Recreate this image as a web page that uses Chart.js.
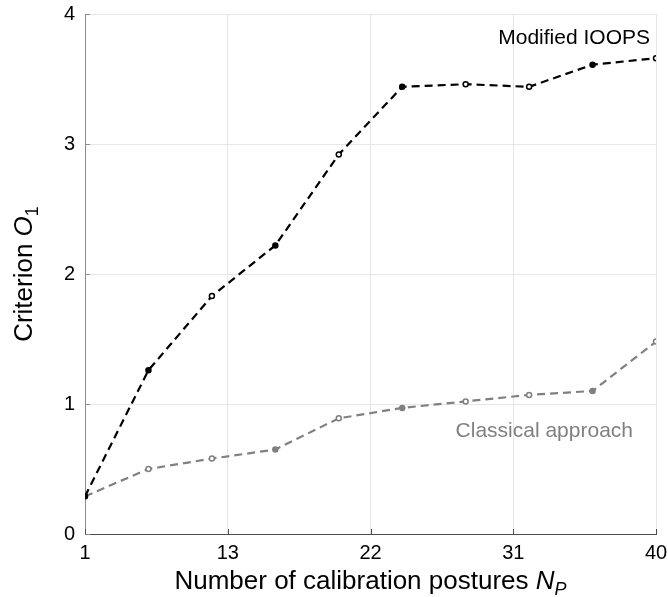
<!DOCTYPE html>
<html>
<head>
<meta charset="utf-8">
<script src="https://cdn.jsdelivr.net/npm/chart.js@4.4.1/dist/chart.umd.min.js"></script>
<style>
html,body{margin:0;padding:0;background:#fff;}
#wrap{width:668px;height:597px;position:relative;}
</style>
</head>
<body>
<div id="wrap"><canvas id="c" width="668" height="597"></canvas></div>
<script>
// ---- data ----
const pointIndex = [0, 1, 2, 3, 4, 5, 6, 7, 8, 9];
const modifiedIOOPS = [0.29, 1.26, 1.83, 2.22, 2.92, 3.44, 3.46, 3.44, 3.61, 3.66];
const classicalApproach = [0.29, 0.50, 0.58, 0.65, 0.89, 0.97, 1.02, 1.07, 1.10, 1.48];
const xTickPositions = [0, 2.25, 4.5, 6.75, 9];
const xTickLabels = ['1', '13', '22', '31', '40'];
const yTickValues = [0, 1, 2, 3, 4];
const modifiedFilled = [true, true, false, true, false, true, false, false, true, false];
const classicalFilled = [true, false, false, true, false, true, false, false, true, false];
const seriesNames = ['Modified IOOPS', 'Classical approach'];

const FONT = '"Liberation Sans", Arial, Helvetica, sans-serif';
const BLACK = '#000000';
const GREY = '#808080';

function toXY(vals) { return pointIndex.map((x, i) => ({x: x, y: vals[i]})); }

function drawRich(ctx, parts, x, y, align) {
  const base = 26;
  const setFont = p => {
    const size = p.sub ? 18 : base;
    ctx.font = (p.italic ? 'italic ' : '') + size + 'px ' + FONT;
  };
  let total = 0;
  parts.forEach(p => { setFont(p); total += ctx.measureText(p.t).width; });
  let cx = align === 'center' ? x - total / 2 : x;
  parts.forEach(p => {
    setFont(p);
    ctx.fillText(p.t, cx, y + (p.sub ? 6 : 0));
    cx += ctx.measureText(p.t).width;
  });
}

const decor = {
  id: 'decor',
  afterDraw(chart) {
    const ctx = chart.ctx;
    const xs = chart.scales.x, ys = chart.scales.y;
    const ca = chart.chartArea;
    ctx.save();
    // inward tick marks
    ctx.lineWidth = 1;
    ctx.strokeStyle = '#4d4d4d';
    xTickPositions.forEach(v => {
      const px = Math.round(xs.getPixelForValue(v)) + 0.5;
      ctx.beginPath(); ctx.moveTo(px, ca.bottom); ctx.lineTo(px, ca.bottom - 5); ctx.stroke();
    });
    ctx.strokeStyle = '#8c8c8c';
    yTickValues.forEach(v => {
      const py = Math.round(ys.getPixelForValue(v)) + 0.5;
      ctx.beginPath(); ctx.moveTo(ca.left, py); ctx.lineTo(ca.left + 5, py); ctx.stroke();
    });
    // series labels
    ctx.textBaseline = 'alphabetic';
    ctx.textAlign = 'right';
    ctx.font = '21px ' + FONT;
    ctx.fillStyle = BLACK;
    ctx.fillText(seriesNames[0], xs.getPixelForValue(9) - 6, ys.getPixelForValue(3.77));
    ctx.fillStyle = GREY;
    ctx.fillText(seriesNames[1], xs.getPixelForValue(9) - 23, ys.getPixelForValue(0.75));
    // axis titles
    ctx.fillStyle = BLACK;
    ctx.textAlign = 'left';
    drawRich(ctx, [
      {t: 'Number of calibration postures '},
      {t: 'N', italic: true},
      {t: 'P', italic: true, sub: true}
    ], (ca.left + ca.right) / 2, 589, 'center');
    ctx.translate(32, (ca.top + ca.bottom) / 2);
    ctx.rotate(-Math.PI / 2);
    drawRich(ctx, [
      {t: 'Criterion '},
      {t: 'O', italic: true},
      {t: '1', sub: true}
    ], 0, 0, 'center');
    ctx.restore();
  }
};

new Chart(document.getElementById('c'), {
  type: 'line',
  data: {
    datasets: [
      {
        label: seriesNames[0],
        data: toXY(modifiedIOOPS),
        borderColor: BLACK,
        borderWidth: 2.2,
        borderDash: [8, 5],
        pointRadius: 2.5,
        pointBorderWidth: 1.5,
        pointBorderColor: BLACK,
        pointBackgroundColor: modifiedFilled.map(f => f ? BLACK : '#ffffff'),
        tension: 0
      },
      {
        label: seriesNames[1],
        data: toXY(classicalApproach),
        borderColor: GREY,
        borderWidth: 2.2,
        borderDash: [8, 5],
        pointRadius: 2.5,
        pointBorderWidth: 1.5,
        pointBorderColor: GREY,
        pointBackgroundColor: classicalFilled.map(f => f ? GREY : '#ffffff'),
        tension: 0
      }
    ]
  },
  options: {
    responsive: false,
    animation: false,
    devicePixelRatio: 1,
    layout: {padding: {top: 14, right: 12, left: 0, bottom: 0}},
    plugins: {legend: {display: false}, tooltip: {enabled: false}},
    scales: {
      x: {
        type: 'linear',
        min: 0, max: 9,
        afterBuildTicks: s => { s.ticks = xTickPositions.map(v => ({value: v})); },
        afterFit: s => { s.height = 63; s.paddingLeft = 0; s.paddingRight = 0; },
        ticks: {
          autoSkip: false,
          maxRotation: 0,
          padding: 7,
          color: BLACK,
          font: {family: FONT, size: 20},
          callback: (v) => { const i = xTickPositions.indexOf(v); return i >= 0 ? xTickLabels[i] : ''; }
        },
        grid: {color: '#e6e6e6', lineWidth: 1, tickLength: 0, drawTicks: false},
        border: {display: true, color: '#4d4d4d', width: 1}
      },
      y: {
        type: 'linear',
        min: 0, max: 4,
        afterBuildTicks: s => { s.ticks = yTickValues.map(v => ({value: v})); },
        afterFit: s => { s.width = 85; s.paddingTop = 0; s.paddingBottom = 0; },
        ticks: {
          padding: 10,
          color: BLACK,
          font: {family: FONT, size: 20},
          callback: v => String(v)
        },
        grid: {color: '#e6e6e6', lineWidth: 1, tickLength: 0, drawTicks: false},
        border: {display: true, color: '#8c8c8c', width: 1}
      }
    }
  },
  plugins: [decor]
});
</script>
</body>
</html>
